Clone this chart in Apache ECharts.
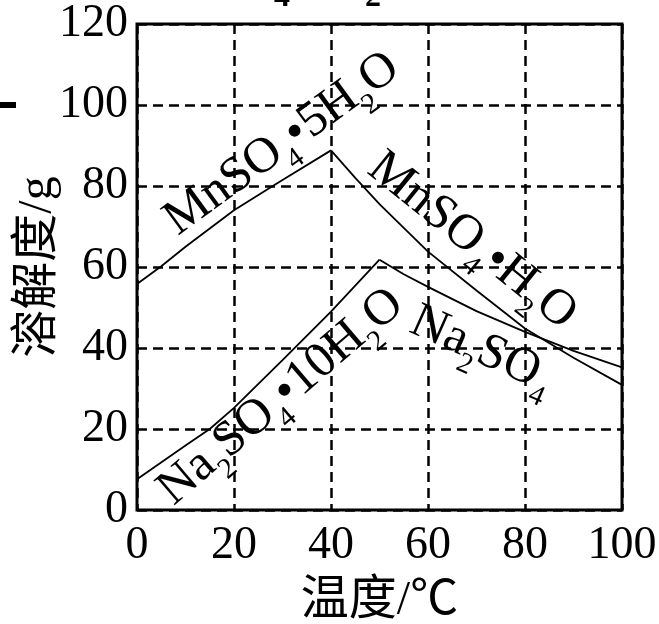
<!DOCTYPE html>
<html><head><meta charset="utf-8">
<script src="https://cdn.jsdelivr.net/npm/echarts@6/dist/echarts.min.js"></script>
<style>html,body{margin:0;padding:0;background:#fff}#c{width:659px;height:624px}</style>
</head><body><div id="c"></div>
<script>
// ---- data ----
const xTicks = [0, 20, 40, 60, 80, 100];
const yTicks = [0, 20, 40, 60, 80, 100, 120];
const xName = '温度/℃';
const yName = '溶解度/g';

const mn5Temp = [0, 5, 10, 20, 28, 30, 40];
const mn5Sol  = [55.8, 60.2, 65, 74, 80, 81.5, 88.8];

const mn1Temp = [40, 45, 50, 60, 70, 80, 90, 100];
const mn1Sol  = [88.8, 82, 75.5, 63.8, 54.2, 44.8, 37.6, 30.9];

const na10Temp = [0, 10, 15, 20, 30, 40, 50];
const na10Sol  = [7.6, 15.9, 20, 25.2, 37, 49, 61.8];

const naTemp = [50, 55, 60, 70, 80, 90, 100];
const naSol  = [61.8, 58.2, 55.1, 49.1, 44, 39.3, 35.2];

const labelTexts = ['MnSO_4•5H_2O', 'MnSO_4•H_2O', 'Na_2SO_4•10H_2O', 'Na_2SO_4'];

// ---- build ----
const FONT = "'Liberation Serif', 'Times New Roman', 'Noto Sans CJK SC', serif";
const pairs = (xs, ys) => xs.map((x, i) => [x, ys[i]]);

function toRich(s) {
  let out = '';
  for (let i = 0; i < s.length; i++) {
    const ch = s[i];
    if (ch === '_') { out += '{s|' + s[++i] + '}'; }
    else if (ch === '•') { out += '{b|•}'; }
    else { out += '{m|' + ch + '}'; }
  }
  return out;
}
const rich = {
  m: {font: "50px 'Liberation Serif'", fill: '#000', padding: [0, 0, 10, 0], verticalAlign: 'bottom'},
  s: {font: "29px 'Liberation Serif'", fill: '#000', padding: [0, 0, 0, 0], verticalAlign: 'bottom'},
  b: {font: "50px 'Liberation Serif'", fill: '#000', padding: [0, 0, 10, 0], verticalAlign: 'bottom'}
};
// centre of main glyph line and angle (deg, counter-clockwise)
const labelPlace = [
  {x: 282, y: 144, deg: 36},
  {x: 472, y: 241, deg: -39},
  {x: 281, y: 397, deg: 40.5},
  {x: 482, y: 350, deg: -24}
];

const chart = echarts.init(document.getElementById('c'), null, {renderer: 'canvas'});
const lineSeries = (data) => ({
  type: 'line', data, showSymbol: false, symbol: 'none', smooth: false,
  lineStyle: {color: '#000', width: 1.8}, z: 5, animation: false
});

chart.setOption({
  animation: false,
  backgroundColor: '#fff',
  grid: {left: 137, right: 37, top: 24, bottom: 114, containLabel: false, outerBoundsMode: 'none',
         show: true, borderColor: '#000', borderWidth: 3, backgroundColor: 'transparent'},
  xAxis: {
    type: 'value', min: xTicks[0], max: xTicks[xTicks.length - 1], interval: xTicks[1] - xTicks[0],
    axisLine: {show: false}, axisTick: {show: false},
    splitLine: {show: true, lineStyle: {color: '#000', type: [10, 6], width: 2.5}},
    axisLabel: {fontSize: 46, fontFamily: FONT, color: '#000', margin: 13},
    name: xName, nameLocation: 'middle', nameGap: 67, nameMoveOverlap: false,
    nameTextStyle: {fontSize: 48, fontFamily: FONT, color: '#000'}
  },
  yAxis: {
    type: 'value', min: yTicks[0], max: yTicks[yTicks.length - 1], interval: yTicks[1] - yTicks[0],
    axisLine: {show: false}, axisTick: {show: false},
    splitLine: {show: true, lineStyle: {color: '#000', type: [10, 6], width: 2.5}},
    axisLabel: {fontSize: 46, fontFamily: FONT, color: '#000', margin: 9},
    name: yName, nameLocation: 'middle', nameGap: 75, nameMoveOverlap: false,
    nameTextStyle: {fontSize: 48, fontFamily: FONT, color: '#000'}
  },
  series: [
    lineSeries(pairs(mn5Temp, mn5Sol)),
    lineSeries(pairs(mn1Temp, mn1Sol)),
    lineSeries(pairs(na10Temp, na10Sol)),
    lineSeries(pairs(naTemp, naSol))
  ],
  graphic: labelTexts.map((t, i) => {
    const r = labelPlace[i].deg * Math.PI / 180;
    return {
      type: 'text', x: labelPlace[i].x + 5 * Math.sin(r), y: labelPlace[i].y + 5 * Math.cos(r),
      rotation: r, z: 10,
      style: {text: toRich(t), rich, align: 'center', verticalAlign: 'middle', fill: '#000'}
    };
  }).concat([
    {type: 'rect', shape: {x: 0, y: 102, width: 16, height: 6}, style: {fill: '#000'}},
    {type: 'text', x: 282, y: 14, style: {text: '4', font: "bold 32px 'Liberation Serif'", fill: '#000', align: 'center', verticalAlign: 'bottom'}},
    {type: 'text', x: 373, y: 14, style: {text: '2', font: "bold 32px 'Liberation Serif'", fill: '#000', align: 'center', verticalAlign: 'bottom'}}
  ])
});
</script></body></html>
